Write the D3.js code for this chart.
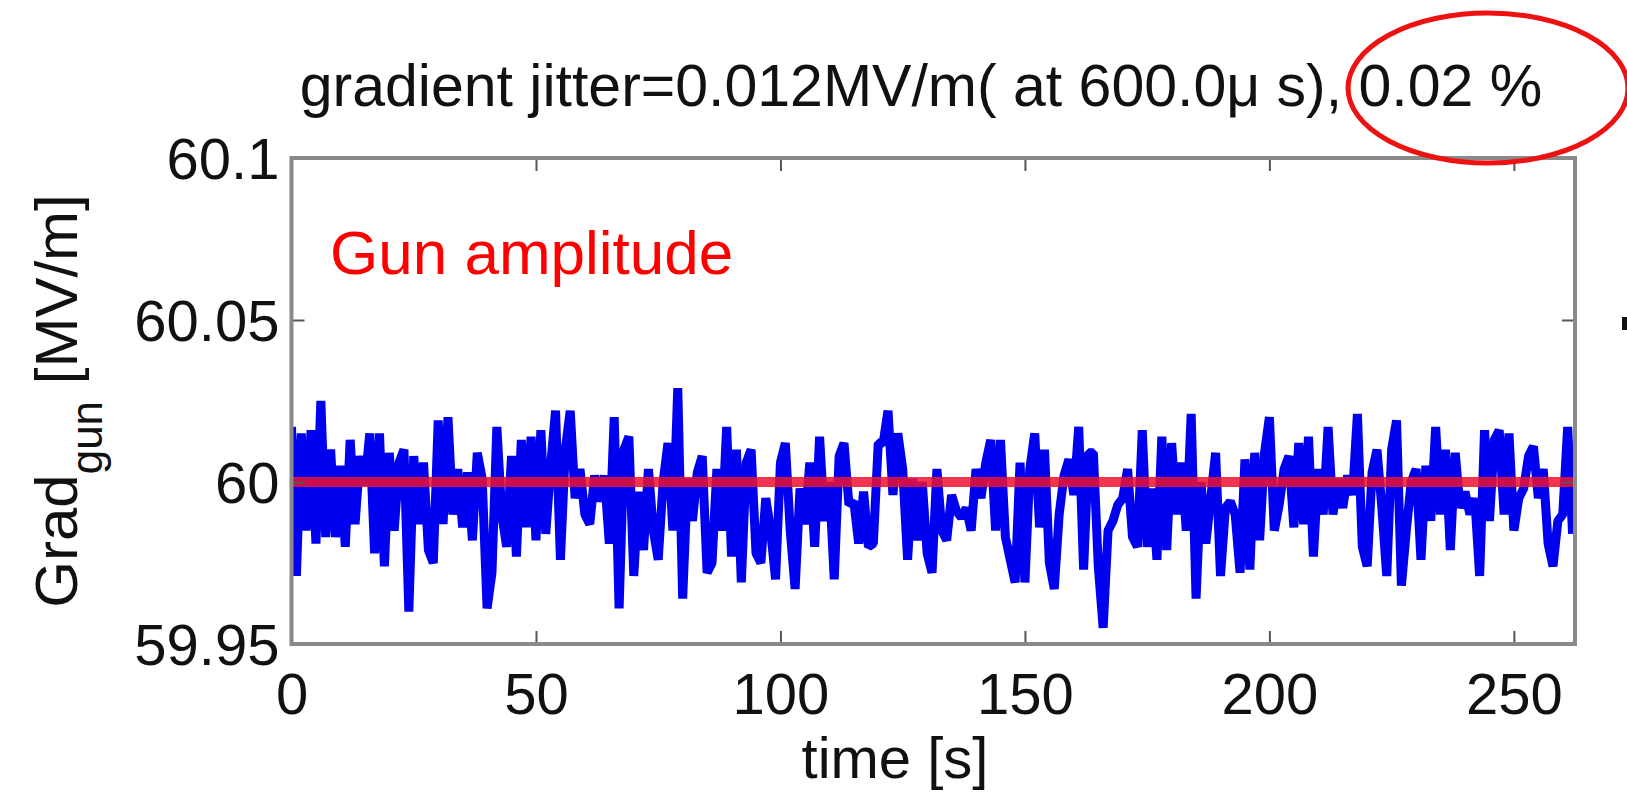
<!DOCTYPE html>
<html>
<head>
<meta charset="utf-8">
<script src="https://cdn.jsdelivr.net/npm/d3@7"></script>
<style>
  html, body { margin: 0; padding: 0; background: #fff; }
  svg { display: block; }
  text { font-family: "Liberation Sans", Arial, Helvetica, sans-serif; fill: #111; }
</style>
</head>
<body>
<script>

// ===== Data =====

// Time axis
const timeDomain = [0, 262.5];
const timeTicks = [0, 50, 100, 150, 200, 250];
const sampleStep = 1; // seconds between samples

// Gradient axis
const gradDomain = [59.95, 60.1];
const gradTicks = [59.95, 60, 60.05, 60.1];
const gradTickLabels = ["59.95", "60", "60.05", "60.1"];

// Set point (red line)
const gradSetPoint = 60;

// Measured gun gradient [MV/m], one sample per second
const gradGun = [
    60.017, 59.971, 60.015, 59.985, 60.016, 59.981, 60.025, 59.983, 60.010, 59.983, // 0
    60.005, 59.980, 60.013, 59.987, 60.008, 59.999, 60.015, 59.978, 60.015, 59.974, // 10
    60.009, 59.985, 60.006, 60.010, 59.960, 60.008, 59.987, 60.006, 59.979, 59.975, // 20
    60.019, 59.987, 60.020, 59.990, 60.004, 59.986, 60.003, 59.982, 60.009, 60.001, // 30
    59.961, 59.972, 60.017, 59.990, 59.980, 60.008, 59.977, 60.013, 59.986, 60.014, // 40
    59.982, 60.016, 59.984, 60.005, 60.022, 59.976, 60.010, 60.022, 59.995, 60.004, // 50
    59.990, 59.987, 60.002, 59.994, 60.002, 59.981, 60.020, 59.961, 60.010, 60.014, // 60
    59.971, 59.997, 59.979, 60.004, 59.985, 59.976, 60.000, 60.012, 59.985, 60.029, // 70
    59.964, 60.001, 59.988, 60.003, 60.008, 59.972, 59.975, 60.004, 59.985, 60.017, // 80
    59.977, 60.010, 59.969, 60.006, 60.010, 59.978, 59.975, 59.995, 59.985, 59.970, // 90
    60.006, 60.012, 59.985, 59.967, 59.998, 59.987, 60.006, 59.980, 60.014, 59.988, // 100
    60.000, 59.970, 60.008, 60.012, 59.993, 59.994, 59.981, 59.997, 59.980, 59.981, // 110
    60.012, 60.012, 60.022, 59.996, 60.015, 60.004, 59.976, 60.001, 59.982, 60.000, // 120
    59.978, 59.972, 60.004, 59.985, 59.982, 59.996, 59.991, 59.989, 59.992, 59.985, // 130
    60.004, 59.995, 60.006, 60.013, 59.985, 60.013, 59.983, 59.976, 59.969, 60.006, // 140
    59.969, 60.004, 60.015, 59.986, 60.010, 59.975, 59.967, 59.990, 60.002, 60.007, // 150
    59.996, 60.017, 59.973, 60.009, 60.009, 59.974, 59.955, 59.985, 59.988, 59.993, // 160
    59.995, 60.004, 59.983, 59.980, 60.016, 59.980, 59.998, 59.976, 60.014, 59.979, // 170
    60.012, 59.990, 60.006, 59.985, 60.021, 59.964, 60.000, 59.981, 59.995, 60.009, // 180
    59.971, 59.992, 59.994, 59.990, 59.972, 60.007, 59.973, 60.009, 59.982, 60.009, // 190
    60.020, 59.985, 59.993, 60.004, 60.008, 59.986, 60.012, 59.987, 60.014, 59.977, // 200
    60.004, 59.990, 60.017, 59.990, 60.001, 59.992, 60.002, 59.996, 60.021, 59.980, // 210
    59.974, 60.003, 60.010, 59.992, 59.971, 60.010, 60.019, 59.968, 59.985, 60.000, // 220
    60.004, 59.976, 60.005, 59.988, 60.017, 59.990, 60.010, 59.979, 60.009, 59.992, // 230
    59.997, 59.990, 59.995, 59.971, 60.016, 59.988, 60.013, 60.016, 59.990, 60.015, // 240
    59.985, 59.995, 59.998, 60.008, 60.011, 59.995, 60.004, 59.981, 59.974, 59.988, // 250
    59.990, 60.017, 59.984                                                          // 260
];

// Texts
const titleText = "gradient jitter=0.012MV/m( at 600.0\u03bc s), 0.02 %";
const xLabelText = "time [s]";
const annotationText = "Gun amplitude";

// ===== Layout =====
const width = 1627;
const height = 801;
const plot = { left: 291.5, right: 1575, top: 158, bottom: 644 };
const tickLen = 13;
const fontSize = 58;

const svg = d3.select("body")
    .append("svg")
    .attr("width", width)
    .attr("height", height);

// Scales
const x = d3.scaleLinear().domain(timeDomain).range([plot.left, plot.right]);
const y = d3.scaleLinear().domain(gradDomain).range([plot.bottom, plot.top]);

// Clip to the axes box
svg.append("clipPath")
    .attr("id", "plot-clip")
    .append("rect")
    .attr("x", plot.left)
    .attr("y", plot.top)
    .attr("width", plot.right - plot.left)
    .attr("height", plot.bottom - plot.top);

// Blue measured trace
const line = d3.line()
    .x((d, i) => x(i * sampleStep))
    .y(d => y(d));

svg.append("path")
    .datum(gradGun)
    .attr("clip-path", "url(#plot-clip)")
    .attr("fill", "none")
    .attr("stroke", "#0000f0")
    .attr("stroke-width", 9)
    .attr("stroke-linejoin", "bevel")
    .attr("d", line);

// Red set point line
svg.append("line")
    .attr("x1", x(timeDomain[0]))
    .attr("x2", x(timeDomain[1]))
    .attr("y1", y(gradSetPoint))
    .attr("y2", y(gradSetPoint))
    .attr("stroke", "#ee1030")
    .attr("stroke-opacity", 0.85)
    .attr("stroke-width", 10);

// ===== Axes (ticks inward, MATLAB style) =====
const xAxisBottom = d3.axisBottom(x)
    .tickValues(timeTicks)
    .tickFormat(d3.format("d"))
    .tickSizeInner(-tickLen)
    .tickSizeOuter(0)
    .tickPadding(29);

const xAxisTop = d3.axisTop(x)
    .tickValues(timeTicks)
    .tickFormat("")
    .tickSizeInner(-tickLen)
    .tickSizeOuter(0);

const yAxisLeft = d3.axisLeft(y)
    .tickValues(gradTicks)
    .tickFormat((d, i) => gradTickLabels[i])
    .tickSizeInner(-tickLen)
    .tickSizeOuter(0)
    .tickPadding(12);

const yAxisRight = d3.axisRight(y)
    .tickValues(gradTicks)
    .tickFormat("")
    .tickSizeInner(-tickLen)
    .tickSizeOuter(0);

function styleAxis(g) {
    g.select(".domain").remove();
    g.selectAll(".tick line").attr("stroke", "#555").attr("stroke-width", 2);
    g.selectAll(".tick text")
        .attr("fill", "#111")
        .style("font-size", fontSize + "px")
        .style("font-family", "'Liberation Sans', Arial, sans-serif");
}

svg.append("g")
    .attr("transform", `translate(0,${plot.bottom})`)
    .call(xAxisBottom)
    .call(styleAxis);

svg.append("g")
    .attr("transform", `translate(0,${plot.top})`)
    .call(xAxisTop)
    .call(styleAxis);

svg.append("g")
    .attr("transform", `translate(${plot.left},0)`)
    .call(yAxisLeft)
    .call(styleAxis)
    .selectAll(".tick text")
    .attr("dy", "0.36em");

svg.append("g")
    .attr("transform", `translate(${plot.right},0)`)
    .call(yAxisRight)
    .call(styleAxis);

// Axes box
svg.append("rect")
    .attr("x", plot.left)
    .attr("y", plot.top)
    .attr("width", plot.right - plot.left)
    .attr("height", plot.bottom - plot.top)
    .attr("fill", "none")
    .attr("stroke", "#8a8a8a")
    .attr("stroke-width", 4);

// ===== Texts =====

// Title
svg.append("text")
    .attr("x", 921)
    .attr("y", 106)
    .attr("text-anchor", "middle")
    .style("font-size", "59px")
    .text(titleText);

// X label
svg.append("text")
    .attr("x", 895)
    .attr("y", 778)
    .attr("text-anchor", "middle")
    .style("font-size", fontSize + "px")
    .text(xLabelText);

// Y label: Grad_gun [MV/m]
const yLabel = svg.append("text")
    .attr("transform", `translate(77,${(plot.top + plot.bottom) / 2}) rotate(-90)`)
    .attr("text-anchor", "middle")
    .style("font-size", "60px");
yLabel.append("tspan").text("Grad");
yLabel.append("tspan").attr("dy", 25).style("font-size", "44px").text("gun");
yLabel.append("tspan").attr("dy", -25).text(" [MV/m]");

// Red annotation
svg.append("text")
    .attr("x", 330)
    .attr("y", 274)
    .style("font-size", "62px")
    .style("fill", "#ff0000")
    .text(annotationText);

// Red ellipse around the percentage
svg.append("ellipse")
    .attr("cx", 1488)
    .attr("cy", 88)
    .attr("rx", 140)
    .attr("ry", 75)
    .attr("fill", "none")
    .attr("stroke", "#ee1111")
    .attr("stroke-width", 5);

// Edge of the neighbouring panel (cut off in the original)
svg.append("rect")
    .attr("x", 1622)
    .attr("y", 317)
    .attr("width", 5)
    .attr("height", 13)
    .attr("fill", "#111");

</script>
</body>
</html>
